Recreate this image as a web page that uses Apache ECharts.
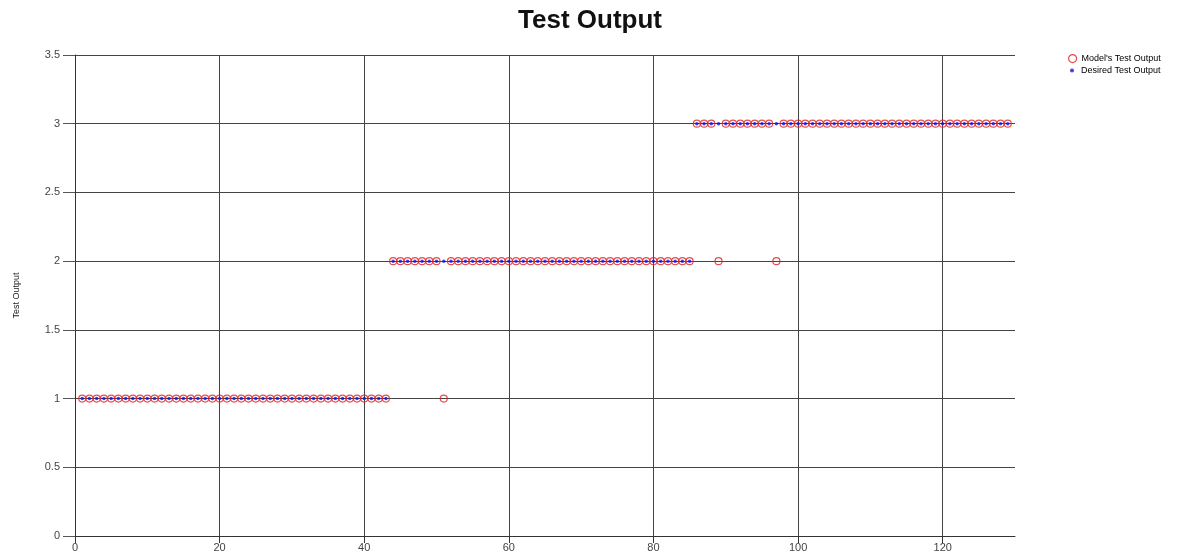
<!DOCTYPE html>
<html><head><meta charset="utf-8">
<script src="https://cdn.jsdelivr.net/npm/echarts@6/dist/echarts.min.js"></script>
<style>html,body{margin:0;padding:0;background:#fff}#c{width:1183px;height:559px}</style>
</head><body><div id="c"></div>
<script>
// x index of each test sample
const sampleIndex = [];
for (let i = 1; i <= 129; i++) sampleIndex.push(i);
// Desired class per sample
const desiredOutput = [
 1,1,1,1,1,1,1,1,1,1, 1,1,1,1,1,1,1,1,1,1, 1,1,1,1,1,1,1,1,1,1, 1,1,1,1,1,1,1,1,1,1, 1,1,1,
 2,2,2,2,2,2,2,2,2,2, 2,2,2,2,2,2,2,2,2,2, 2,2,2,2,2,2,2,2,2,2, 2,2,2,2,2,2,2,2,2,2, 2,2,
 3,3,3,3,3,3,3,3,3,3, 3,3,3,3,3,3,3,3,3,3, 3,3,3,3,3,3,3,3,3,3, 3,3,3,3,3,3,3,3,3,3, 3,3,3,3
];
// Model output differs at these samples
const modelErrors = {51: 1, 89: 2, 97: 2};
const modelOutput = desiredOutput.map((v, i) => (modelErrors[i + 1] !== undefined ? modelErrors[i + 1] : v));
const xTicks = [0, 20, 40, 60, 80, 100, 120];
const yTicks = [0, 0.5, 1, 1.5, 2, 2.5, 3, 3.5];

const font = 'Liberation Sans, Arial, sans-serif';
const chart = echarts.init(document.getElementById('c'));
chart.setOption({
  animation: false,
  backgroundColor: '#fff',
  title: {text: 'Test Output', left: 585, textAlign: 'center', top: 3,
    textStyle: {fontFamily: font, fontSize: 26, fontWeight: 'bold', color: '#111'}},
  legend: [
    {orient: 'vertical', left: 1063, top: 49, itemWidth: 8, itemHeight: 8,
      textStyle: {fontFamily: font, fontSize: 9, color: '#000'},
      data: [{name: "Model's Test Output", icon: 'circle', itemStyle: {color: 'transparent', borderColor: '#e02020', borderWidth: 1.2}}]},
    {orient: 'vertical', left: 1065, top: 61, itemWidth: 4, itemHeight: 4,
      textStyle: {fontFamily: font, fontSize: 9, color: '#000', padding: [0, 0, 0, 2]},
      data: [{name: 'Desired Test Output', icon: 'circle'}]}
  ],
  grid: {left: 75, right: 168, top: 55, bottom: 23, containLabel: false},
  xAxis: {type: 'value', min: 0, max: 130, interval: 20,
    axisLine: {show: true, onZero: false, lineStyle: {color: '#333', width: 1}},
    axisTick: {show: true, length: 7, lineStyle: {color: '#333'}},
    axisLabel: {fontFamily: font, fontSize: 11, color: '#444', margin: 6,
      showMaxLabel: false,
      formatter: v => (xTicks.includes(v) ? String(v) : '')},
    splitLine: {show: true, showMaxLine: false, lineStyle: {color: '#444', width: 1}}},
  yAxis: {type: 'value', min: 0, max: 3.5, interval: 0.5,
    name: 'Test Output', nameLocation: 'middle', nameGap: 54,
    nameTextStyle: {fontFamily: font, fontSize: 9, color: '#222'},
    axisLine: {show: true, lineStyle: {color: '#333', width: 1}},
    axisTick: {show: true, length: 12, lineStyle: {color: '#555'}},
    axisLabel: {fontFamily: font, fontSize: 11, color: '#444', margin: 15,
      formatter: v => (yTicks.includes(v) ? String(v) : '')},
    splitLine: {show: true, lineStyle: {color: '#444', width: 1}}},
  series: [
    {name: "Model's Test Output", type: 'scatter', symbol: 'circle', symbolSize: 7,
      itemStyle: {color: 'rgba(255,255,255,0)', borderColor: '#e02020', borderWidth: 1.2},
      data: sampleIndex.map((x, i) => [x, modelOutput[i]]), z: 3},
    {name: 'Desired Test Output', type: 'scatter', symbol: 'circle', symbolSize: 3.5,
      itemStyle: {color: '#1010ee'},
      data: sampleIndex.map((x, i) => [x, desiredOutput[i]]), z: 4}
  ]
});
</script></body></html>
